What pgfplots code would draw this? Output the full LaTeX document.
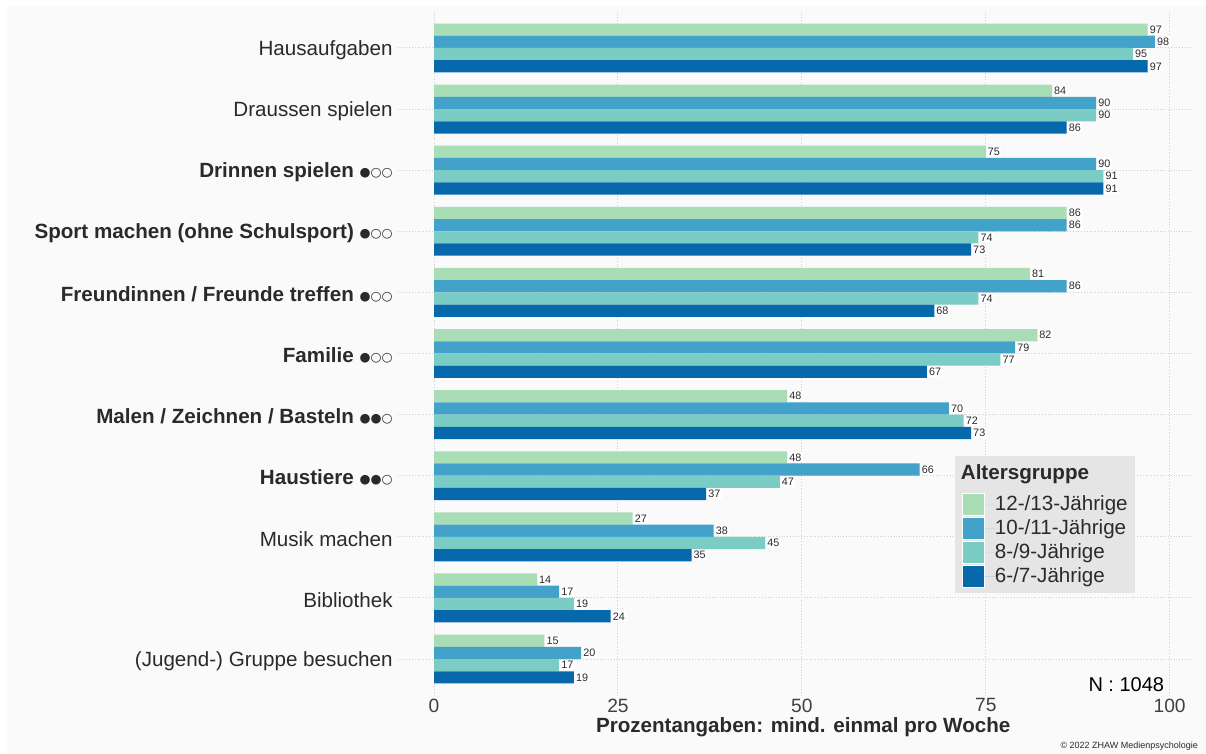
\documentclass[border=0pt]{standalone}
\usepackage{fontspec}
\setmainfont{Liberation Sans}
\newfontfamily\sym{DejaVu Sans}
\usepackage{pgfplots}
\pgfplotsset{compat=1.18}

\definecolor{cA}{HTML}{A8DDB5}
\definecolor{cB}{HTML}{43A2CA}
\definecolor{cC}{HTML}{7BCCC4}
\definecolor{cD}{HTML}{0868AC}
\definecolor{bgc}{HTML}{FAFAFA}
\definecolor{gridc}{HTML}{CFCFCF}
\definecolor{legbg}{HTML}{E5E5E5}
\definecolor{txt}{HTML}{2A2A2A}
\definecolor{ticktxt}{HTML}{404040}

\newcommand{\one}{\raisebox{0.6pt}{\sym\fontsize{6.3}{7}\selectfont ●○○}}
\newcommand{\two}{\raisebox{0.6pt}{\sym\fontsize{6.3}{7}\selectfont ●●○}}
\newcommand{\mainfs}{\fontsize{10.3}{12}\selectfont}

\begin{document}
\begin{tikzpicture}
\fill[white] (-199pt,-29.15pt) rectangle (404pt,347.85pt);
\fill[bgc] (-195.5pt,-29.15pt) rectangle (404pt,344.85pt);
\path[use as bounding box] (-199pt,-29.15pt) rectangle (404pt,347.85pt);
\begin{axis}[
    scale only axis,
    width=396.5pt, height=342.2pt,
    xmin=-4.9, xmax=102.9,
    ymin=-0.6, ymax=10.6,
    xbar, bar width=0.2,
    axis line style={draw=none},
    major tick length=0pt,
    /pgf/number format/assume math mode=true,
    xtick={0,25,50,75,100},
    xticklabels={0,25,50,75,100},
    ytick={0,1,2,3,4,5,6,7,8,9,10},
    yticklabels={
        (Jugend-) Gruppe besuchen,
        Bibliothek,
        Musik machen,
        \textbf{Haustiere} \two,
        \textbf{Malen / Zeichnen / Basteln} \two,
        \textbf{Familie} \one,
        \textbf{Freundinnen / Freunde treffen} \one,
        \textbf{Sport machen (ohne Schulsport)} \one,
        \textbf{Drinnen spielen} \one,
        Draussen spielen,
        Hausaufgaben},
    xmajorgrids, ymajorgrids,
    grid style={densely dotted, gridc, line width=0.5pt},
    xticklabel style={font=\fontsize{9.6}{11}\selectfont, text=ticktxt, yshift=2pt},
    yticklabel style={font=\mainfs, text=txt, inner sep=0pt, xshift=-2.5pt, yshift=-1pt},
    xlabel={\textbf{Prozentangaben: mind. einmal pro Woche}},
    xlabel style={font=\mainfs, text=txt, at={(rel axis cs:0.511,0)}, anchor=center, yshift=-15.6pt},
    nodes near coords,
    point meta=x,
    every node near coord/.append style={font=\fontsize{5.4}{6}\selectfont, text=txt,
        fill=white, inner sep=0.6pt, anchor=west, xshift=0.3pt},
    legend style={at={(rel axis cs:0.7024,0.3502)}, anchor=north west,
        fill=legbg, draw=none, font=\mainfs, text=txt, row sep=0pt,
        inner xsep=3.5pt, inner ysep=2.5pt,
        nodes={inner sep=0pt, text height=9pt, text depth=3pt}},
    legend cell align=left,
    legend image code/.code={\fill[#1, draw=white, line width=0.5pt] (0pt,-5.5pt) rectangle (11pt,5.5pt);
        \path (0pt,0pt) -- (16pt,0pt);},
]
\addlegendimage{empty legend}
\addlegendentry[text depth=6.5pt]{\hspace*{-17pt}\textbf{Altersgruppe}}

\addplot[fill=cA, draw=none, bar shift=0.3] coordinates {
    (97,10) (84,9) (75,8) (86,7) (81,6) (82,5) (48,4) (48,3) (27,2) (14,1) (15,0)};
\addlegendentry{12-/13-Jährige}
\addplot[fill=cB, draw=none, bar shift=0.1] coordinates {
    (98,10) (90,9) (90,8) (86,7) (86,6) (79,5) (70,4) (66,3) (38,2) (17,1) (20,0)};
\addlegendentry{10-/11-Jährige}
\addplot[fill=cC, draw=none, bar shift=-0.1] coordinates {
    (95,10) (90,9) (91,8) (74,7) (74,6) (77,5) (72,4) (47,3) (45,2) (19,1) (17,0)};
\addlegendentry{8-/9-Jährige}
\addplot[fill=cD, draw=none, bar shift=-0.3] coordinates {
    (97,10) (86,9) (91,8) (73,7) (68,6) (67,5) (73,4) (37,3) (35,2) (24,1) (19,0)};
\addlegendentry{6-/7-Jährige}

\node[anchor=east, font=\fontsize{10}{12}\selectfont, text=black] at (rel axis cs:0.975,0.016) {N : 1048};
\end{axis}
\node[anchor=east, font=\fontsize{4.5}{5}\selectfont, text=txt] at (403.5pt,-25.15pt) {© 2022 ZHAW Medienpsychologie};
\end{tikzpicture}
\end{document}
